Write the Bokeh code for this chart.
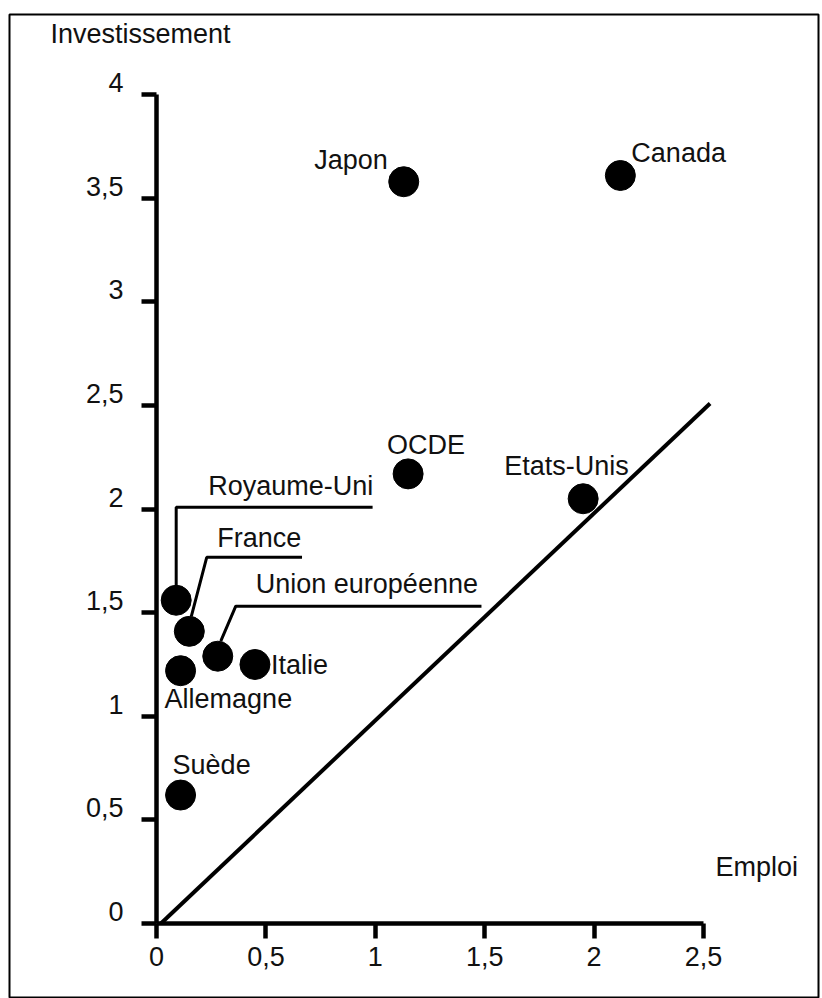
from bokeh.plotting import figure
from bokeh.models import ColumnDataSource, LinearAxis, FixedTicker, Range1d
from bokeh.core.properties import value
from bokeh.embed import file_html
from bokeh.resources import INLINE

# ---------------- data ----------------
countries = ["Japon", "Canada", "OCDE", "Etats-Unis", "Royaume-Uni", "France",
             "Union européenne", "Italie", "Allemagne", "Suède"]
emploi = [1.13, 2.12, 1.15, 1.95, 0.09, 0.15, 0.28, 0.45, 0.11, 0.11]
investissement = [3.58, 3.61, 2.17, 2.05, 1.56, 1.41, 1.29, 1.25, 1.22, 0.62]

x_ticks = [0, 0.5, 1, 1.5, 2, 2.5]
x_tick_labels = ["0", "0,5", "1", "1,5", "2", "2,5"]
y_ticks = [0, 0.5, 1, 1.5, 2, 2.5, 3, 3.5, 4]
y_tick_labels = ["0", "0,5", "1", "1,5", "2", "2,5", "3", "3,5", "4"]

diag_x = [0.02, 2.53]
diag_y = [0.0, 2.51]

x_title = "Emploi"
y_title = "Investissement"

# ---------------- layout ----------------
W, H = 820, 998
BL, BR, BT, BB = 9, 2, 14, 0
FW, FH = W - BL - BR, H - BT - BB
PX_X, PX_Y = 218.8, 207.2          # pixels per unit
OX, OY = 147, 909                  # origin inside the frame (pixels)
LBL_UP = 12                        # y tick labels sit above their ticks (px)

x_range = Range1d(-OX / PX_X, (FW - OX) / PX_X)
y_range = Range1d(-(FH - OY) / PX_Y, OY / PX_Y)

FONT = "Liberation Sans"
FSIZE = "27px"
TXT = "#111111"

# label offsets in screen pixels (positive dy = down)
label_dx = [-16, 11, -21, -79, 197, 28, 38, 16, -16, -8]
label_dy = [-22, -23, -29, -33, -114, -93, -72, 0, 28, -30]
label_align = ["right", "left", "left", "left", "right", "left", "left", "left", "left", "left"]

# leader lines (index of country, pixel offsets from the point)
leaders = {
    4: [(0, 0), (0, -93), (196.4, -93)],
    5: [(2, -15), (17.4, -74), (112.7, -74)],
    6: [(3, -15), (18, -50), (263.7, -50)],
}

p = figure(width=W, height=H, x_range=x_range, y_range=y_range,
           x_axis_type=None, y_axis_type=None, toolbar_location=None,
           output_backend="svg", title=None,
           min_border_left=BL, min_border_right=BR,
           min_border_top=BT, min_border_bottom=BB)
p.outline_line_color = "black"
p.outline_line_width = 2
p.background_fill_color = "white"
p.border_fill_color = "white"

d = LBL_UP / PX_Y
p.extra_y_ranges = {"lbl": Range1d(y_range.start - d, y_range.end - d)}

def style_axis(ax):
    ax.axis_line_width = 4.5
    ax.axis_line_color = "black"
    ax.major_tick_line_width = 4.5
    ax.major_tick_line_color = "black"
    ax.major_tick_out = 15
    ax.major_tick_in = 0
    ax.minor_tick_line_color = None
    ax.major_label_text_font = FONT
    ax.major_label_text_font_size = FSIZE
    ax.major_label_text_color = TXT

xaxis = LinearAxis(fixed_location=0, bounds=(0, 2.5),
                   ticker=FixedTicker(ticks=x_ticks),
                   major_label_overrides=dict(zip(x_ticks, x_tick_labels)))
style_axis(xaxis)
xaxis.major_label_standoff = 8
p.add_layout(xaxis, "below")

# y axis line + ticks (labels drawn by a second axis, slightly raised)
yaxis = LinearAxis(fixed_location=0, bounds=(0, 4),
                   ticker=FixedTicker(ticks=y_ticks),
                   major_label_overrides={t: "" for t in y_ticks})
style_axis(yaxis)
p.add_layout(yaxis, "left")

ylab = LinearAxis(fixed_location=0, bounds=(0, 4), y_range_name="lbl",
                  ticker=FixedTicker(ticks=y_ticks),
                  major_label_overrides=dict(zip(y_ticks, y_tick_labels)))
style_axis(ylab)
ylab.axis_line_color = None
ylab.major_tick_line_color = None
ylab.major_label_standoff = 18
p.add_layout(ylab, "left")

# diagonal
p.line(diag_x, diag_y, line_width=4, line_color="black")

# leader lines
xs, ys = [], []
for i, pts in leaders.items():
    xs.append([emploi[i] + dx / PX_X for dx, dy in pts])
    ys.append([investissement[i] - dy / PX_Y for dx, dy in pts])
p.multi_line(xs, ys, line_width=3, line_color="black")

# points
p.scatter(emploi, investissement, size=30, fill_color="black", line_color="black")

# labels
src = ColumnDataSource(dict(x=emploi, y=investissement, t=countries,
                            dx=label_dx, dy=label_dy, al=label_align))
p.text(x="x", y="y", text="t", x_offset="dx", y_offset="dy", text_align="al",
       text_baseline="alphabetic", text_font=value(FONT),
       text_font_size=value(FSIZE), text_color=TXT, source=src)

# axis titles
p.text(x=[0], y=[4], text=[y_title], x_offset=-106, y_offset=-61,
       text_align="left", text_baseline="alphabetic", text_font=value(FONT),
       text_font_size=value(FSIZE), text_color=TXT)
p.text(x=[2.5], y=[0], text=[x_title], x_offset=12, y_offset=-57,
       text_align="left", text_baseline="alphabetic", text_font=value(FONT),
       text_font_size=value(FSIZE), text_color=TXT)

open("out.html", "w").write(file_html(p, INLINE))
